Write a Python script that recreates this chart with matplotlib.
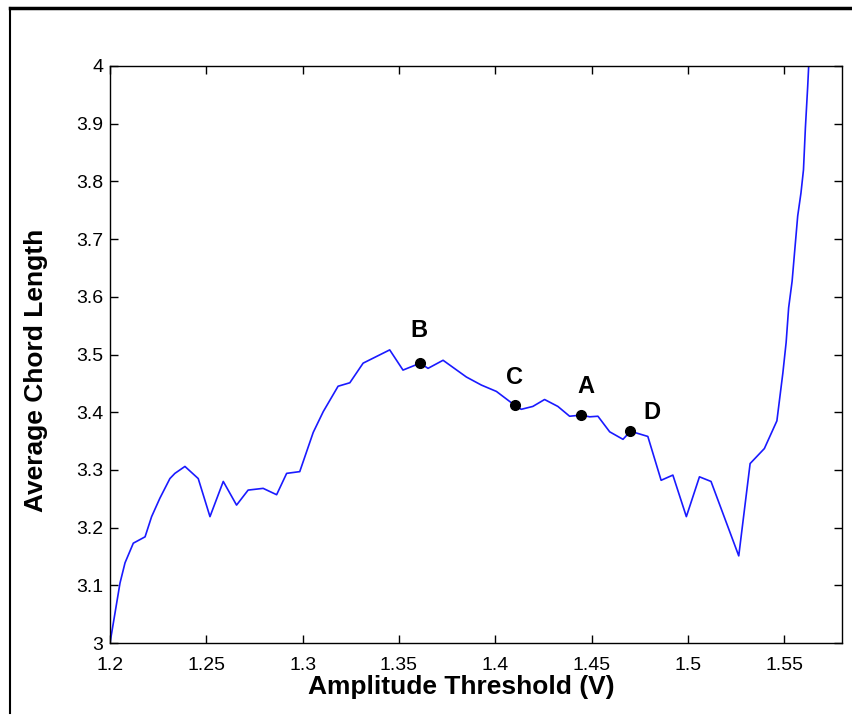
import numpy as np
import matplotlib.pyplot as plt
from matplotlib.lines import Line2D

plt.rcParams['font.family'] = ['Liberation Sans', 'DejaVu Sans']

# traced curve
threshold = [1.2000, 1.2026, 1.2052, 1.2078, 1.2121, 1.2182, 1.2216, 1.2259, 1.2311, 1.2337,
             1.2389, 1.2458, 1.2519, 1.2588, 1.2657, 1.2717, 1.2795, 1.2865, 1.2917, 1.2985,
             1.3055, 1.3107, 1.3184, 1.3245, 1.3314, 1.3452, 1.3521, 1.3610, 1.3651, 1.3729,
             1.3850, 1.3928, 1.4006, 1.4101, 1.4135, 1.4195, 1.4256, 1.4325, 1.4386, 1.4446,
             1.4490, 1.4533, 1.4594, 1.4663, 1.4702, 1.4792, 1.4861, 1.4922, 1.4992, 1.5060,
             1.5120, 1.5264, 1.5323, 1.5397, 1.5462, 1.5493, 1.5510, 1.5523, 1.5541, 1.5553,
             1.5570, 1.5587, 1.5600, 1.5610, 1.5622, 1.5630]
chord = [3.000, 3.052, 3.104, 3.139, 3.173, 3.184, 3.219, 3.251, 3.285, 3.294,
         3.306, 3.285, 3.219, 3.280, 3.239, 3.265, 3.268, 3.257, 3.294, 3.297,
         3.365, 3.401, 3.445, 3.451, 3.485, 3.508, 3.473, 3.485, 3.476, 3.490,
         3.461, 3.447, 3.436, 3.412, 3.405, 3.410, 3.422, 3.410, 3.393, 3.395,
         3.392, 3.393, 3.366, 3.353, 3.367, 3.358, 3.282, 3.291, 3.219, 3.288,
         3.280, 3.151, 3.311, 3.337, 3.385, 3.468, 3.521, 3.581, 3.627, 3.674,
         3.740, 3.780, 3.820, 3.893, 3.965, 4.020]

point_names = ['B', 'C', 'A', 'D']
point_x = [1.3610, 1.4101, 1.4446, 1.4702]
point_y = [3.485, 3.412, 3.395, 3.367]
label_x = [1.3604, 1.4100, 1.4469, 1.4812]
label_y = [3.542, 3.461, 3.444, 3.400]

fig = plt.figure(figsize=(8.52, 7.15), dpi=100)
ax = fig.add_axes([110 / 852, 1 - 643 / 715, 732 / 852, 577 / 715])

ax.plot(threshold, chord, color='#1a1aff', lw=1.2)
ax.plot(point_x, point_y, 'o', color='black', ms=7)
for name, lx, ly in zip(point_names, label_x, label_y):
    ax.text(lx, ly, name, fontsize=17, fontweight='bold', ha='center', va='center')

ax.set_xlim(1.2, 1.58)
ax.set_ylim(3, 4)
ax.set_xticks([1.2, 1.25, 1.3, 1.35, 1.4, 1.45, 1.5, 1.55])
ax.set_xticklabels(['1.2', '1.25', '1.3', '1.35', '1.4', '1.45', '1.5', '1.55'])
ax.set_yticks(np.round(np.arange(3, 4.01, 0.1), 1))
ax.set_yticklabels(['3', '3.1', '3.2', '3.3', '3.4', '3.5', '3.6', '3.7', '3.8', '3.9', '4'])
ax.tick_params(direction='in', length=6, width=1, top=True, right=True, labelsize=14)
ax.tick_params(axis='x', pad=10)
ax.tick_params(axis='y', pad=5)
for s in ax.spines.values():
    s.set_linewidth(1)

ax.set_xlabel('Amplitude Threshold (V)', fontsize=19, fontweight='bold')
ax.set_ylabel('Average Chord Length', fontsize=19, fontweight='bold')
ax.xaxis.set_label_coords((461 - 110) / 732, -(675 - 643) / 577)
ax.yaxis.set_label_coords(-(110 - 48) / 732, (643 - 370) / 577)

# outer frame (cropped)
fig.add_artist(Line2D([10 / 852, 1.0], [1 - 8 / 715, 1 - 8 / 715], color='black', lw=2.5,
                      transform=fig.transFigure))
fig.add_artist(Line2D([10 / 852, 10 / 852], [1 - 8 / 715, 1 - 713 / 715], color='black', lw=1.5,
                      transform=fig.transFigure))

fig.savefig('out.png', dpi=100)
